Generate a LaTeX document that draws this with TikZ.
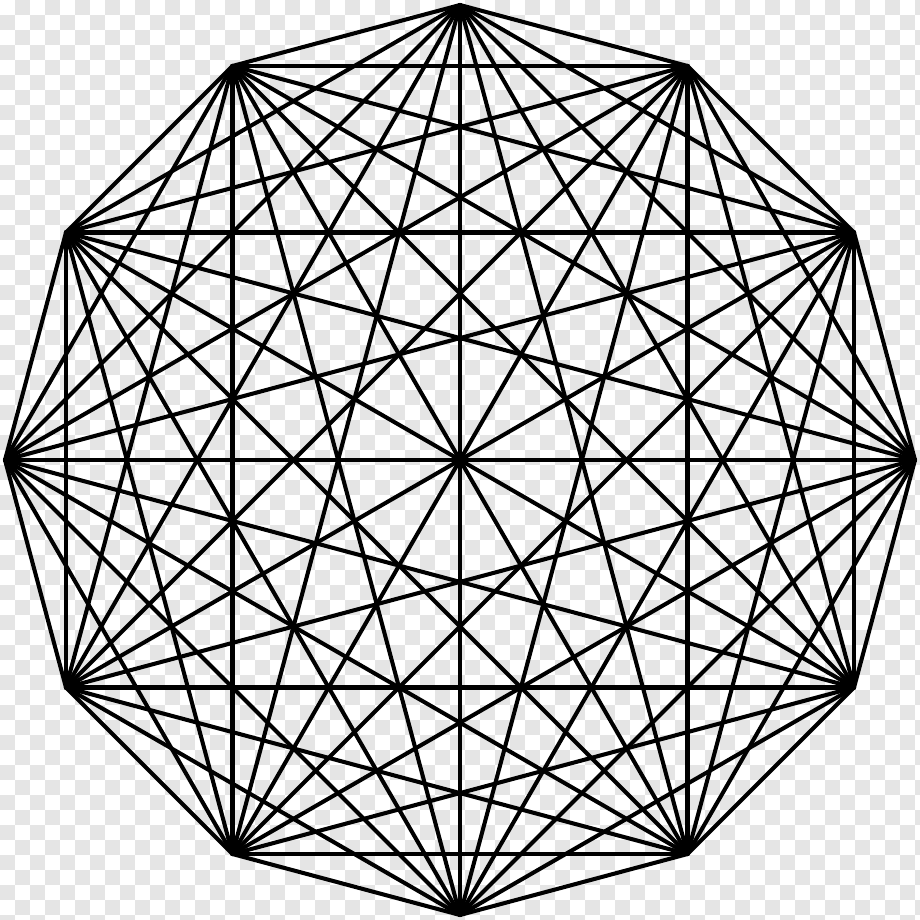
\documentclass[tikz,border=0pt]{standalone}
\usepackage{tikz}
\usetikzlibrary{calc}
\tikzset{edge/.style={line width=1.15pt,line cap=round,line join=round}}

\begin{document}
\begin{tikzpicture}
\useasboundingbox (0,0) rectangle (9.2,9.2);
% checkered background
\foreach \i in {0,...,61} {
  \foreach \j in {0,...,61} {
    \pgfmathparse{int(mod(\i+\j,2))}
    \ifnum\pgfmathresult=1
      \fill[black!10] (\i*0.15,9.2-\j*0.15) rectangle +(0.15,-0.15);
    \fi
  }
}
\coordinate (O) at (4.6,4.6);
\foreach \k in {1,...,12}
  \coordinate (v\k) at ($(O)+(90-30*\k+30:4.55)$);
\foreach \k in {1,...,11} {
  \pgfmathtruncatemacro{\next}{\k+1}
  \foreach \m in {\next,...,12}
    \draw[edge] (v\k) -- (v\m);
}
\end{tikzpicture}
\end{document}
